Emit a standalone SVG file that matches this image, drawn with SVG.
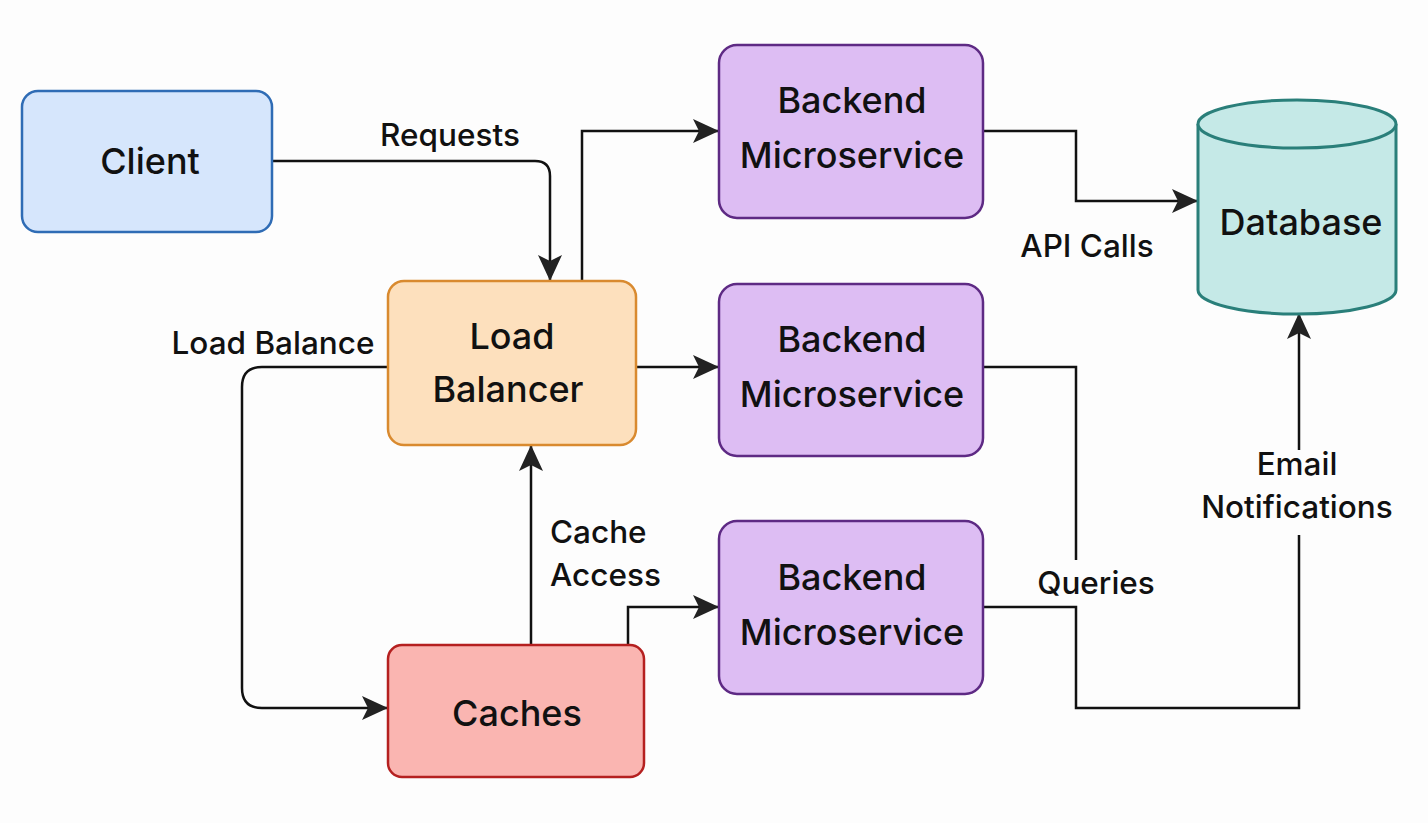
<svg xmlns="http://www.w3.org/2000/svg" width="1428" height="823" viewBox="0 0 1428 823">
<style>
.node text{font-family:Inter,"Noto Sans",sans-serif;font-size:36px;font-weight:500;fill:#111;text-anchor:middle}
.lbl{font-family:Inter,"Noto Sans",sans-serif;font-size:31.5px;font-weight:500;fill:#111}
.c{fill:none;stroke:#111;stroke-width:2.5}
</style>
<defs>
<marker id="ah" markerUnits="userSpaceOnUse" markerWidth="28" markerHeight="24" refX="26" refY="12" orient="auto">
<path d="M0,0 L26,12 L0,24 L6,12 Z" fill="#222"/>
</marker>
</defs>
<rect width="1428" height="823" fill="#fdfdfd"/>
<g id="connectors">
<path class="c" d="M272,161 H535 Q550,161 550,176 V281" marker-end="url(#ah)"/>
<path class="c" d="M582,281 V131 H719" marker-end="url(#ah)"/>
<path class="c" d="M636,367 H719" marker-end="url(#ah)"/>
<path class="c" d="M388,367 H262 Q242,367 242,387 V688 Q242,708 262,708 H388" marker-end="url(#ah)"/>
<path class="c" d="M531,645 V445" marker-end="url(#ah)"/>
<path class="c" d="M628,645 V607 H719" marker-end="url(#ah)"/>
<path class="c" d="M983,131 H1076 V201 H1198" marker-end="url(#ah)"/>
<path class="c" d="M983,367 H1076 V560"/>
<path class="c" d="M983,607 H1076 V708 H1299 V535"/>
<path class="c" d="M1299,450 V313" marker-end="url(#ah)"/>
<text class="lbl" x="450" y="146" text-anchor="middle">Requests</text>
<text class="lbl" x="273" y="354" text-anchor="middle">Load Balance</text>
<text class="lbl" x="550" y="543">Cache</text>
<text class="lbl" x="550" y="586">Access</text>
<text class="lbl" x="1087" y="257" text-anchor="middle">API Calls</text>
<text class="lbl" x="1096" y="594" text-anchor="middle">Queries</text>
<text class="lbl" x="1297" y="475" text-anchor="middle">Email</text>
<text class="lbl" x="1297" y="518" text-anchor="middle">Notifications</text>
</g>
<g id="client" class="node">
<rect x="22" y="91" width="250" height="141" rx="16" fill="#d6e6fc" stroke="#2f6cb5" stroke-width="2.5"/>
<text x="150" y="174">Client</text>
</g>
<g id="loadbalancer" class="node">
<rect x="388" y="281" width="248" height="164" rx="16" fill="#fde0bd" stroke="#d98a2f" stroke-width="2.5"/>
<text x="512" y="349">Load</text>
<text x="508" y="402">Balancer</text>
</g>
<g id="backend1" class="node">
<rect x="719" y="45" width="264" height="173" rx="18" fill="#ddbdf3" stroke="#5e2a84" stroke-width="2.5"/>
<text x="852" y="113">Backend</text>
<text x="852" y="168">Microservice</text>
</g>
<g id="backend2" class="node">
<rect x="719" y="284" width="264" height="172" rx="18" fill="#ddbdf3" stroke="#5e2a84" stroke-width="2.5"/>
<text x="852" y="352">Backend</text>
<text x="852" y="407">Microservice</text>
</g>
<g id="backend3" class="node">
<rect x="719" y="521" width="264" height="173" rx="18" fill="#ddbdf3" stroke="#5e2a84" stroke-width="2.5"/>
<text x="852" y="590">Backend</text>
<text x="852" y="645">Microservice</text>
</g>
<g id="caches" class="node">
<rect x="388" y="645" width="256" height="132" rx="14" fill="#fab5b1" stroke="#b52020" stroke-width="2.5"/>
<text x="517" y="726">Caches</text>
</g>
<g id="database" class="node">
<path d="M1198,124 V290 A99,24 0 0 0 1396,290 V124" fill="#c5e9e7" stroke="#2a7f7a" stroke-width="3"/>
<ellipse cx="1297" cy="124" rx="99" ry="24" fill="#c5e9e7" stroke="#2a7f7a" stroke-width="3"/>
<text x="1301" y="235">Database</text>
</g>
</svg>
